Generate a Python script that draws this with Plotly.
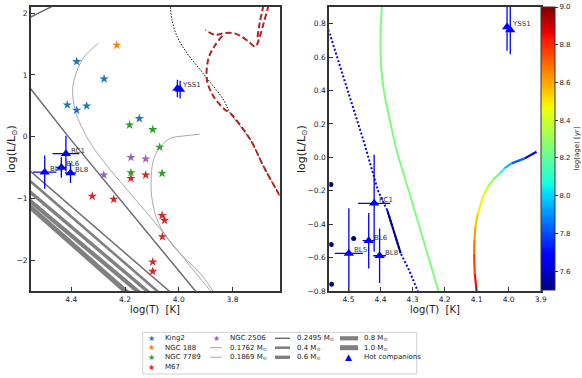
import plotly.graph_objects as go
from plotly.colors import sample_colorscale

# ---------------- data ----------------
king2_T = [4.380, 4.278, 4.415, 4.380, 4.343, 4.147]
king2_L = [1.216, 0.935, 0.514, 0.428, 0.498, 0.292]
ngc188_T = [4.231]
ngc188_L = [1.481]
ngc7789_T = [4.183, 4.097, 4.071, 4.178, 4.062]
ngc7789_L = [0.190, 0.114, -0.170, -0.583, -0.593]
ngc2506_T = [4.178, 4.123, 4.279]
ngc2506_L = [-0.337, -0.361, -0.621]
m67_T = [4.178, 4.123, 4.322, 4.242, 4.062, 4.053, 4.061, 4.097, 4.097]
m67_L = [-0.677, -0.621, -0.964, -1.014, -1.277, -1.355, -1.621, -2.030, -2.181]

hot_names = ["RC1", "BL6", "BL8", "BL5", "YSS1", ""]
hot_T = [4.420, 4.437, 4.403, 4.499, 4.005, 3.995]
hot_L = [-0.275, -0.499, -0.589, -0.575, 0.780, 0.762]
hot_Terr = [0.050, 0.019, 0.020, 0.044, 0.008, 0.008]
hot_Lerr = [0.290, 0.166, 0.163, 0.270, 0.142, 0.145]

# white-dwarf cooling tracks (left panel)
trk1762_T = [4.299, 4.355, 4.386, 4.395, 4.386, 4.362, 4.312, 4.076, 3.882, 3.870]
trk1762_L = [1.514, 1.276, 0.973, 0.757, 0.433, 0.162, -0.215, -1.458, -2.500, -2.560]
trk1869_T = [3.922, 3.982, 4.031, 4.069, 4.094, 4.103, 4.099, 4.075, 4.019, 3.920, 3.864]
trk1869_L = [0.039, 0.011, -0.026, -0.162, -0.377, -0.702, -1.026, -1.403, -1.783, -2.214, -2.565]
trk2495_T = [4.56, 4.46, None, 4.58, 4.548, 4.411, 3.938, 3.920, None, 4.58, 4.004]
trk2495_L = [1.919, 2.135, None, 0.934, 0.757, 0.000, -2.500, -2.600, None, -0.457, -2.620]
trk04_T = [4.58, 4.05]
trk04_L = [-0.617, -2.615]
trk06_T = [4.58, 4.09]
trk06_L = [-0.798, -2.601]
trk08_T = [4.58, 4.125]
trk08_L = [-0.945, -2.606]
trk10_T = [4.58, 4.17]
trk10_L = [-1.036, -2.610]

# isochrones (left panel)
iso_black_T = [4.032, 4.025, 4.006, 3.969, 3.920, 3.870, 3.833, 3.808, 3.733, 3.684, 3.622, 3.600]
iso_black_L = [2.150, 1.891, 1.621, 1.352, 1.081, 0.810, 0.595, 0.379, -0.053, -0.486, -0.972, -1.144]
iso_red_T = [3.665, 3.684, 3.700, 3.715, 3.740, 3.771, 3.796, 3.833, 3.864, 3.901, None,
             3.684, 3.699, 3.707, None,
             3.838, 3.864, 3.889, 3.895, 3.870, 3.827, 3.808, 3.733, 3.684, 3.622, 3.600]
iso_red_L = [2.134, 1.838, 1.600, 1.459, 1.540, 1.632, 1.676, 1.676, 1.648, 1.729, None,
             2.134, 1.838, 1.600, None,
             1.632, 1.486, 1.271, 0.919, 0.648, 0.433, 0.379, -0.053, -0.486, -0.972, -1.144]

# right panel tracks, coloured by log(age)
blue_T = [4.570, 4.560, 4.502, 4.452, 4.408, 4.379, 4.337, 4.311, 4.285, 4.278]
blue_L = [0.810, 0.748, 0.403, 0.093, -0.200, -0.317, -0.575, -0.675, -0.795, -0.830]
blue_age = 7.68
blue_dense_T = [4.379, 4.337]
blue_dense_L = [-0.317, -0.575]
blue_dense_age = 7.52
green_T = [4.395, 4.400, 4.398, 4.390, 4.369, 4.350, 4.312, 4.219, 4.214]
green_L = [0.930, 0.743, 0.543, 0.403, 0.204, 0.044, -0.200, -0.800, -0.830]
green_age = 8.25
cool_T = [4.099, 4.106, 4.108, 4.107, 4.104, 4.096, 4.080, 4.065, 4.049, 4.028, 4.013, 3.991, 3.950, 3.913]
cool_L = [-0.820, -0.695, -0.575, -0.495, -0.416, -0.335, -0.236, -0.176, -0.136, -0.096, -0.066, -0.036, -0.006, 0.034]
cool_age = [8.88, 8.80, 8.72, 8.65, 8.58, 8.52, 8.45, 8.38, 8.28, 8.15, 8.03, 7.90, 7.75, 7.58]
dots_T = [4.555, 4.484, 4.554, 4.553]
dots_L = [-0.162, -0.485, -0.521, -0.759]
dots_age = [7.50, 7.50, 7.50, 7.50]

AGE_MIN, AGE_MAX = 7.5, 9.0
cbar_ticks = [7.6, 7.8, 8.0, 8.2, 8.4, 8.6, 8.8, 9.0]

# matplotlib-like jet colour scale
JET = [[0.0, "rgb(0,0,128)"], [0.11, "rgb(0,0,255)"], [0.125, "rgb(0,0,255)"],
       [0.34, "rgb(0,219,255)"], [0.35, "rgb(0,230,247)"], [0.375, "rgb(21,255,226)"],
       [0.64, "rgb(238,255,8)"], [0.65, "rgb(247,245,0)"], [0.66, "rgb(255,236,0)"],
       [0.89, "rgb(255,19,0)"], [0.91, "rgb(232,0,0)"], [1.0, "rgb(128,0,0)"]]


def age_color(a):
    return sample_colorscale(JET, [(a - AGE_MIN) / (AGE_MAX - AGE_MIN)])[0]


W, H = 582, 378


def px(x):
    return x / W


def py(y):
    return 1 - y / H


FONT = "DejaVu Sans, Verdana, sans-serif"
fig = go.Figure()


def line(T, L, color, width, dash="solid", xa="x", ya="y", shape="linear"):
    fig.add_trace(go.Scatter(x=T, y=L, mode="lines", line=dict(color=color, width=width, dash=dash, shape=shape),
                             xaxis=xa, yaxis=ya, showlegend=False, hoverinfo="skip", connectgaps=False))


# ---------------- left panel ----------------
line(trk10_T, trk10_L, "#808080", 5)
line(trk08_T, trk08_L, "#808080", 4.2)
line(trk06_T, trk06_L, "#808080", 3.4)
line(trk04_T, trk04_L, "#808080", 2.6)
line(trk2495_T, trk2495_L, "#6e6e6e", 1.5)
line(trk1762_T, trk1762_L, "#a8a8a8", 1, shape="spline")
line(trk1869_T, trk1869_L, "#a8a8a8", 1, shape="spline")
line(iso_black_T, iso_black_L, "#111111", 1, dash="1.5px,1.5px", shape="spline")
line(iso_red_T, iso_red_L, "#b22222", 2, dash="6px,3px", shape="spline")

clusters = [("King2", king2_T, king2_L, "#1f77b4"), ("NGC 188", ngc188_T, ngc188_L, "#ff7f0e"),
            ("NGC 7789", ngc7789_T, ngc7789_L, "#2ca02c"), ("M67", m67_T, m67_L, "#d62728"),
            ("NGC 2506", ngc2506_T, ngc2506_L, "#9467bd")]
for name, T, L, c in clusters:
    fig.add_trace(go.Scatter(x=T, y=L, mode="markers", name=name,
                             marker=dict(symbol="star", size=7, color=c, line=dict(width=0)),
                             xaxis="x", yaxis="y", showlegend=False))

for xa, ya in (("x", "y"), ("x2", "y2")):
    fig.add_trace(go.Scatter(x=hot_T, y=hot_L, mode="markers", name="Hot companions",
                             marker=dict(symbol="triangle-up", size=9, color="#0000ff", line=dict(width=0)),
                             error_x=dict(type="data", array=hot_Terr, color="#0000ff", thickness=1.3, width=0),
                             error_y=dict(type="data", array=hot_Lerr, color="#0000ff", thickness=1.3, width=0),
                             xaxis=xa, yaxis=ya, showlegend=False))

# ---------------- right panel ----------------
line(blue_T, blue_L, age_color(blue_age), 2, dash="2px,2px", xa="x2", ya="y2")
line(blue_dense_T, blue_dense_L, age_color(blue_dense_age), 2, xa="x2", ya="y2")
line(green_T, green_L, age_color(green_age), 2, xa="x2", ya="y2", shape="spline")
for i in range(len(cool_T) - 1):
    a = (cool_age[i] + cool_age[i + 1]) / 2
    line(cool_T[i:i + 2], cool_L[i:i + 2], age_color(a), 2.2, xa="x2", ya="y2")

fig.add_trace(go.Scatter(
    x=dots_T, y=dots_L, mode="markers", xaxis="x2", yaxis="y2", showlegend=False,
    marker=dict(size=5, color=dots_age, colorscale=JET, cmin=AGE_MIN, cmax=AGE_MAX, line=dict(width=0),
                showscale=True,
                colorbar=dict(x=px(540.7), xanchor="left", y=py(7), yanchor="top", len=(290 - 7) / H,
                              lenmode="fraction", thickness=14, thicknessmode="pixels", xpad=0, ypad=0,
                              outlinewidth=1, outlinecolor="#333", tickvals=cbar_ticks, tickformat=".1f",
                              ticks="outside", ticklen=3, tickcolor="#333",
                              tickfont=dict(size=7, color="#222", family=FONT),
                              title=dict(text="log(age) [yr]", side="right",
                                         font=dict(size=7, color="#222", family=FONT))))))

# ---------------- axes ----------------
axstyle = dict(showline=True, mirror=True, linewidth=2, linecolor="#333", ticks="inside", ticklen=4,
               tickwidth=1.2, tickcolor="#333", showgrid=False, zeroline=False, automargin=False,
               tickfont=dict(size=7.5, color="#222", family=FONT))
fig.update_layout(
    xaxis=dict(domain=[px(31), px(279.5)], range=[4.55, 3.625], dtick=0.2, tick0=4.0, tickformat=".1f",
               anchor="y", **axstyle),
    yaxis=dict(domain=[py(291), py(7)], range=[-2.5, 2.1], dtick=1, tick0=0, anchor="x", **axstyle),
    xaxis2=dict(domain=[px(329.3), px(540.7)], range=[4.56, 3.9], dtick=0.1, tick0=4.0, tickformat=".1f",
                anchor="y2", **axstyle),
    yaxis2=dict(domain=[py(291), py(7)], range=[-0.8, 0.9], dtick=0.2, tick0=0, tickformat=".1f",
                anchor="x2", **axstyle),
)

annotations = []
# companion labels
for xa, ya in (("x", "y"), ("x2", "y2")):
    for n, T, L in zip(hot_names, hot_T, hot_L):
        if n:
            annotations.append(dict(x=T, y=L, xref=xa, yref=ya, text=n, showarrow=False, xanchor="left",
                                    yanchor="middle", xshift=3, yshift=3,
                                    font=dict(size=7, color="#333", family=FONT)))

# axis titles
for cx in (155, 435):
    annotations.append(dict(x=px(cx), y=py(309.5), xref="paper", yref="paper", text="log(T)\u00a0\u00a0[K]",
                            xanchor="center", yanchor="middle",
                            showarrow=False, font=dict(size=10, color="#222", family=FONT)))
for cx in (12, 302):
    annotations.append(dict(x=px(cx), y=py(149), xref="paper", yref="paper", text="log(L/L<sub>⊙</sub>)",
                            xanchor="center", yanchor="middle",
                            textangle=-90, showarrow=False, font=dict(size=11, color="#222", family=FONT)))

# legend (drawn as text + shapes)
rows = [338.3, 347.7, 357.3, 367.0]
shapes = [dict(type="rect", xref="paper", yref="paper", x0=px(142.7), x1=px(416.7), y0=py(374), y1=py(332.3),
               line=dict(color="#d0d0d0", width=1), fillcolor="white", layer="below")]
lab_font = dict(size=7, color="#222", family=FONT)


def leg_text(x, y, t):
    annotations.append(dict(x=px(x), y=py(y), xref="paper", yref="paper", text=t, showarrow=False,
                            xanchor="left", yanchor="middle", font=lab_font))


def leg_glyph(x, y, g, c, s):
    annotations.append(dict(x=px(x), y=py(y), xref="paper", yref="paper", text=g, showarrow=False,
                            xanchor="center", yanchor="middle", font=dict(size=s, color=c, family=FONT)))


def leg_line(x0, x1, y, c, w):
    shapes.append(dict(type="line", xref="paper", yref="paper", x0=px(x0), x1=px(x1), y0=py(y), y1=py(y),
                       line=dict(color=c, width=w)))


for (name, _, _, c), r in zip(clusters[:4], rows):
    leg_glyph(151.7, r, "★", c, 8)
    leg_text(163, r, name)
leg_glyph(216.7, rows[0], "★", clusters[4][3], 8)
leg_text(228.3, rows[0], "NGC 2506")
leg_line(210, 222, rows[1], "#a8a8a8", 1)
leg_text(228.3, rows[1], "0.1762 M<sub>⊙</sub>")
leg_line(210, 222, rows[2], "#a8a8a8", 1)
leg_text(228.3, rows[2], "0.1869 M<sub>⊙</sub>")
leg_line(275, 290, rows[0], "#6e6e6e", 1.5)
leg_text(295, rows[0], "0.2495 M<sub>⊙</sub>")
leg_line(275, 290, rows[1], "#808080", 2.6)
leg_text(295, rows[1], "0.4 M<sub>⊙</sub>")
leg_line(275, 290, rows[2], "#808080", 3.4)
leg_text(295, rows[2], "0.6 M<sub>⊙</sub>")
leg_line(340, 358, rows[0], "#808080", 4.2)
leg_text(361.7, rows[0], "0.8 M<sub>⊙</sub>")
leg_line(340, 358, rows[1], "#808080", 5)
leg_text(361.7, rows[1], "1.0 M<sub>⊙</sub>")
leg_glyph(348.3, rows[2], "▲", "#0000ff", 9)
leg_text(361.7, rows[2], "Hot companions")

fig.update_layout(width=W, height=H, margin=dict(l=0, r=0, t=0, b=0, autoexpand=False), paper_bgcolor="white",
                  plot_bgcolor="white", showlegend=False, annotations=annotations, shapes=shapes,
                  font=dict(family=FONT))
fig.write_html("out.html", config={"displayModeBar": False},
               post_script="document.body.style.margin='0px';document.body.style.overflow='hidden';")
